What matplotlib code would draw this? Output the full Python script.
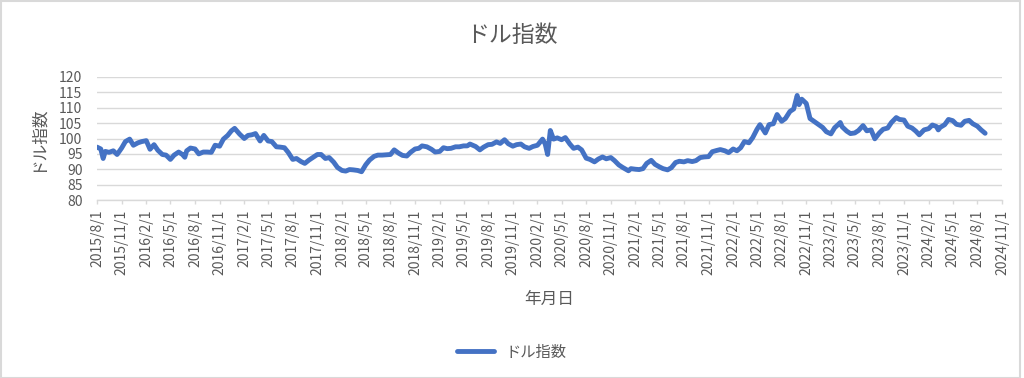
import matplotlib
matplotlib.use("Agg")
import matplotlib.pyplot as plt
import matplotlib.dates as mdates
from matplotlib.patches import Rectangle
import pandas as pd

plt.rcParams['font.family'] = ['Noto Sans CJK JP', 'DejaVu Sans']

title = "ドル指数"
series_name = "ドル指数"
x_title = "年月日"
y_title = "ドル指数"

dates = [
    "2015-08-01", "2015-08-15", "2015-08-24", "2015-09-01", "2015-09-15", "2015-10-01", "2015-10-15",
    "2015-11-01", "2015-11-15", "2015-12-01", "2015-12-15",
    "2016-01-01", "2016-01-15", "2016-02-01", "2016-02-15", "2016-03-01", "2016-03-15", "2016-04-01",
    "2016-04-15", "2016-05-01", "2016-05-15", "2016-06-01", "2016-06-15", "2016-06-24", "2016-07-01",
    "2016-07-15", "2016-08-01", "2016-08-15", "2016-09-01", "2016-09-15", "2016-10-01", "2016-10-15",
    "2016-11-01", "2016-11-15", "2016-12-01", "2016-12-15", "2016-12-27",
    "2017-01-15", "2017-02-01", "2017-02-15", "2017-03-01", "2017-03-15", "2017-04-01", "2017-04-15",
    "2017-05-01", "2017-05-15", "2017-06-01", "2017-06-15", "2017-07-01", "2017-07-15", "2017-08-01",
    "2017-08-15", "2017-09-01", "2017-09-15", "2017-10-01", "2017-10-15", "2017-11-01", "2017-11-15",
    "2017-12-01", "2017-12-15",
    "2018-01-01", "2018-01-15", "2018-02-01", "2018-02-15", "2018-03-01", "2018-03-15", "2018-04-01",
    "2018-04-15", "2018-05-01", "2018-05-15", "2018-06-01", "2018-06-15", "2018-07-01", "2018-07-15",
    "2018-08-01", "2018-08-15", "2018-09-01", "2018-09-15", "2018-10-01", "2018-10-15", "2018-11-01",
    "2018-11-15", "2018-11-27", "2018-12-15",
    "2019-01-01", "2019-01-15", "2019-02-01", "2019-02-15", "2019-03-01", "2019-03-15", "2019-04-01",
    "2019-04-15", "2019-05-01", "2019-05-15", "2019-05-25", "2019-06-15", "2019-07-01", "2019-07-15",
    "2019-08-01", "2019-08-15", "2019-09-01", "2019-09-15", "2019-10-01", "2019-10-15", "2019-11-01",
    "2019-11-15", "2019-12-01", "2019-12-15",
    "2020-01-01", "2020-01-15", "2020-02-01", "2020-02-20", "2020-03-01", "2020-03-10", "2020-03-20",
    "2020-04-01", "2020-04-15", "2020-05-01", "2020-05-15", "2020-06-01", "2020-06-15", "2020-07-01",
    "2020-07-15", "2020-08-01", "2020-08-15", "2020-09-01", "2020-09-15", "2020-10-01", "2020-10-15",
    "2020-11-01", "2020-11-15", "2020-12-01", "2020-12-15",
    "2021-01-06", "2021-01-15", "2021-02-01", "2021-02-15", "2021-03-01", "2021-03-15", "2021-04-01",
    "2021-04-15", "2021-05-01", "2021-05-15", "2021-06-01", "2021-06-15", "2021-07-01", "2021-07-15",
    "2021-08-01", "2021-08-15", "2021-09-01", "2021-09-15", "2021-10-01", "2021-10-15", "2021-11-01",
    "2021-11-15", "2021-12-01", "2021-12-15",
    "2022-01-01", "2022-01-15", "2022-02-01", "2022-02-15", "2022-03-01", "2022-03-15", "2022-04-01",
    "2022-04-15", "2022-05-01", "2022-05-12", "2022-06-01", "2022-06-15", "2022-07-01", "2022-07-15",
    "2022-08-01", "2022-08-15", "2022-09-01", "2022-09-15", "2022-09-28", "2022-10-05", "2022-10-15",
    "2022-11-01", "2022-11-15", "2022-12-01", "2022-12-15",
    "2023-01-01", "2023-01-15", "2023-02-01", "2023-02-15", "2023-03-01", "2023-03-08", "2023-03-15",
    "2023-04-01", "2023-04-15", "2023-05-01", "2023-05-15", "2023-06-01", "2023-06-15", "2023-07-01",
    "2023-07-15", "2023-08-01", "2023-08-15", "2023-09-01", "2023-09-15", "2023-10-03", "2023-10-15",
    "2023-11-01", "2023-11-15", "2023-12-01", "2023-12-15", "2023-12-28",
    "2024-01-15", "2024-02-01", "2024-02-15", "2024-03-01", "2024-03-08", "2024-03-15", "2024-04-01",
    "2024-04-15", "2024-05-01", "2024-05-15", "2024-06-01", "2024-06-15", "2024-07-01", "2024-07-15",
    "2024-08-01", "2024-08-15", "2024-08-30",
]

values = [
    97.2, 96.6, 93.5, 95.8, 95.5, 96.0, 94.8,
    96.9, 99.0, 99.8, 97.8,
    98.6, 99.0, 99.3, 96.5, 98.0, 96.2, 94.8,
    94.6, 93.2, 94.6, 95.6, 94.8, 93.9, 96.0,
    96.9, 96.6, 95.0, 95.6, 95.6, 95.5, 97.8,
    97.5, 99.8, 101.0, 102.5, 103.3,
    101.4, 100.0, 101.0, 101.2, 101.6, 99.2, 101.0,
    99.2, 99.0, 97.3, 97.2, 97.0, 95.5, 93.2,
    93.5, 92.5, 91.9, 93.0, 93.8, 94.8, 94.8,
    93.5, 93.8,
    92.3, 90.6, 89.6, 89.4, 89.9, 89.8, 89.6,
    89.2, 91.5, 93.0, 94.2, 94.6, 94.6, 94.7,
    94.8, 96.3, 95.2, 94.5, 94.3, 95.5, 96.6,
    96.8, 97.6, 97.3,
    96.5, 95.6, 95.8, 97.0, 96.7, 96.8, 97.3,
    97.3, 97.6, 97.6, 98.2, 97.4, 96.3, 97.2,
    98.0, 98.1, 98.9, 98.4, 99.6, 98.3, 97.5,
    98.0, 98.2, 97.3,
    96.8, 97.4, 97.8, 99.8, 98.2, 94.8, 102.6,
    99.8, 100.2, 99.6, 100.3, 98.2, 96.8, 97.2,
    96.3, 93.6, 93.2, 92.4, 93.3, 94.0, 93.4,
    93.8, 92.8, 91.4, 90.6,
    89.5, 90.2, 90.0, 89.9, 90.2, 91.9, 92.9,
    91.6, 90.8, 90.2, 89.8, 90.5, 92.2, 92.6,
    92.4, 92.8, 92.5, 92.8, 93.8, 94.0, 94.1,
    95.7, 96.1, 96.4,
    96.0, 95.4, 96.6, 96.0, 97.0, 99.0, 98.6,
    100.3, 103.0, 104.5, 101.8, 104.5, 104.8, 107.8,
    105.6, 106.5, 108.8, 109.6, 114.0, 111.0, 112.8,
    111.4, 106.5, 105.5, 104.6,
    103.6, 102.2, 101.5, 103.5, 104.6, 105.2, 103.8,
    102.4, 101.6, 101.8, 102.6, 104.2, 102.5, 102.8,
    99.9, 101.8, 103.0, 103.4, 105.2, 106.8, 106.2,
    106.0, 104.0, 103.4, 102.4, 101.2,
    102.8, 103.2, 104.4, 103.9, 102.8, 103.6, 104.5,
    106.2, 105.8, 104.6, 104.3, 105.6, 105.9, 104.8,
    104.0, 102.8, 101.7,
]

y_ticks = [80, 85, 90, 95, 100, 105, 110, 115, 120]
x_start = "2015-08-01"
x_end = "2024-11-01"

text_color = "#595959"
grid_color = "#d9d9d9"
line_color = "#4472C4"

W, H = 1024, 378
fig = plt.figure(figsize=(W / 100, H / 100), dpi=100)
ax = fig.add_axes([97 / W, 1 - 200 / H, (1002 - 97) / W, (200 - 77) / H])

d = pd.to_datetime(dates)
ax.plot(d, values, color=line_color, linewidth=3.5, solid_capstyle='round', solid_joinstyle='round',
        label=series_name, zorder=3)

ax.set_ylim(y_ticks[0], y_ticks[-1])
ax.set_yticks(y_ticks)
ax.yaxis.grid(True, color=grid_color, linewidth=1)
ax.set_axisbelow(True)

xs = pd.Timestamp(x_start)
xe = pd.Timestamp(x_end)
ax.set_xlim(xs, xe)
ticks = pd.date_range(xs, xe, freq="3MS")
ax.set_xticks(ticks)
ax.set_xticklabels([f"{t.year}/{t.month}/{t.day}" for t in ticks], rotation=90, fontsize=10, color=text_color)

for s in ['top', 'right', 'left']:
    ax.spines[s].set_visible(False)
ax.spines['bottom'].set_color(grid_color)
ax.spines['bottom'].set_linewidth(1)
ax.tick_params(axis='x', colors=grid_color, length=3, width=1, pad=4, labelcolor=text_color)
ax.tick_params(axis='y', length=0, pad=10.5, labelsize=10, labelcolor=text_color)

ax.set_xlabel(x_title, fontsize=12, color=text_color, va='center')
ax.xaxis.set_label_coords(0.5, (200 - 299) / 123)
ax.set_ylabel(y_title, fontsize=12, color=text_color, va='center')
ax.yaxis.set_label_coords((37 - 97) / 905, 0.5)

fig.text(0.5, 1 - 35 / H, title, fontsize=16.5, color=text_color, ha='center', va='center')

fig.legend(loc='center', bbox_to_anchor=(0.5, 1 - 352 / H), frameon=False, fontsize=11,
           handlelength=2.4, labelcolor=text_color)

fig.patches.append(Rectangle((0.5 / W, 0.5 / H), 1019 / W, (H - 1.5) / H, transform=fig.transFigure,
                             fill=False, edgecolor=grid_color, linewidth=1.5))

fig.savefig("out.png", dpi=100)
